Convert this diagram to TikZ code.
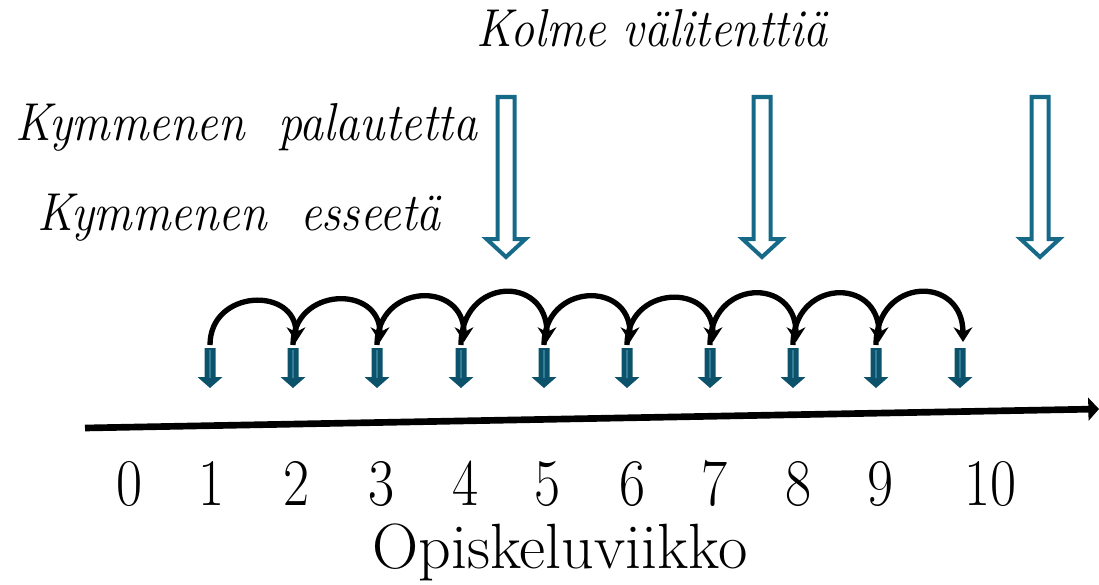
\documentclass[tikz,border=0pt]{standalone}
\usetikzlibrary{arrows.meta}
\definecolor{tealdark}{RGB}{12,82,106}
\definecolor{teallight}{RGB}{52,125,152}
\definecolor{tealline}{RGB}{22,106,136}
\tikzset{
  smallarr/.pic={
    \fill[tealdark] (-5.5,0) -- (5.5,0) -- (5.5,29) -- (12.5,29) -- (0,40) -- (-12.5,29) -- (-5.5,29) -- cycle;
    \draw[teallight, line width=0.9pt] (0,2) -- (0,30);
  },
  bigarr/.pic={
    \draw[tealline, line width=3pt, fill=white, line join=miter]
      (-8.5,0) -- (8.5,0) -- (8.5,142) -- (19.5,142) -- (0,160) -- (-19.5,142) -- (-8.5,142) -- cycle;
  },
  hop/.style={line width=4pt, -{Stealth[length=11pt,width=14pt]}},
  axis/.style={line width=5pt, -{Triangle[length=8pt,width=17pt]}},
  itlabel/.style={font=\fontsize{40}{48}\selectfont\itshape, inner sep=0pt, anchor=base west},
  numlabel/.style={font=\fontsize{50}{60}\selectfont, inner sep=0pt, anchor=base},
}
\newcommand{\narrow}[2]{\scalebox{#1}[1]{#2}}
\begin{document}
\begin{tikzpicture}[x=0.75pt,y=-0.75pt]
\useasboundingbox (0,0) rectangle (1099,585);

% timeline
\coordinate (t0) at (85,428);
\coordinate (t1) at (1099,409);
\draw[axis] (t0) -- (t1);

% small week arrows
\foreach \i/\x in {1/210,2/293,3/377,4/461,5/544,6/627,7/710,8/793,9/876,10/960}{
  \coordinate (w\i) at (\x,348);
  \pic at (w\i) {smallarr};
}

% hops between weeks
\foreach \a/\b/\h in {1/2/56,2/3/58,3/4/62,4/5/68,5/6/62,6/7/60,7/8/66,8/9/66,9/10/68}{
  \draw[hop] ([yshift=2.25pt]w\a) .. controls +(0,-\h) and +(0,-\h) .. ([xshift=2.25pt,yshift=4.5pt]w\b);
}

% big exam arrows
\coordinate (e1) at (506,97);
\coordinate (e2) at (762,97);
\coordinate (e3) at (1040,97);
\foreach \e in {e1,e2,e3}{ \pic at (\e) {bigarr}; }

% labels
\node[itlabel] (kolme) at (476,47) {\narrow{0.9}{Kolme välitenttiä}};
\node[itlabel] (pal) at (15,140) {\narrow{0.9}{Kymmenen\ \ palautetta}};
\node[itlabel] (ess) at (37,230) {\narrow{0.9}{Kymmenen\ \ esseetä}};

% numbers
\foreach \n/\x in {0/130,1/212,2/297,3/381,4/465,5/547,6/632,7/714,8/798,9/880,10/990}{
  \node[numlabel] (n\n) at (\x,505) {\narrow{0.85}{\n}};
}
\node[numlabel, font=\fontsize{48}{56}\selectfont] (xl) at (560,568) {Opiskeluviikko};
\end{tikzpicture}
\end{document}
